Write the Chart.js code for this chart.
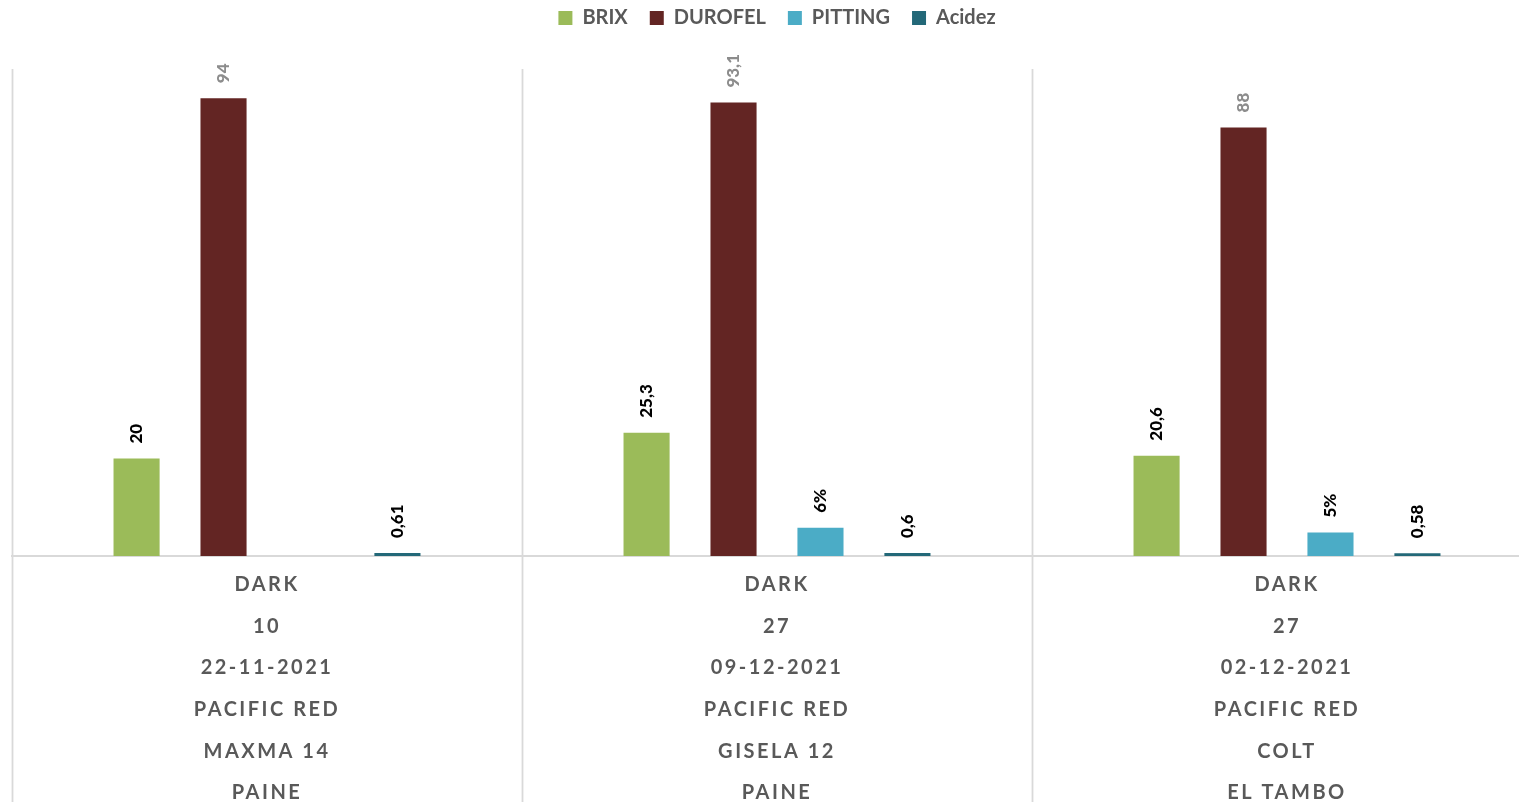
<!DOCTYPE html>
<html>
<head>
<meta charset="utf-8">
<script src="https://cdn.jsdelivr.net/npm/chart.js@4.4.1/dist/chart.umd.min.js"></script>
<style>
  html, body { margin: 0; padding: 0; background: #fff; overflow: hidden; }
  #wrap { width: 1542px; height: 802px; position: relative; }
</style>
</head>
<body>
<div id="wrap"><canvas id="grafico"></canvas></div>
<script>
// ejes de categoria (varias lineas por muestra)
const tipo = ['DARK', 'DARK', 'DARK'];
const calibre = ['10', '27', '27'];
const fecha = ['22-11-2021', '09-12-2021', '02-12-2021'];
const variedad = ['PACIFIC RED', 'PACIFIC RED', 'PACIFIC RED'];
const portainjerto = ['MAXMA 14', 'GISELA 12', 'COLT'];
const zona = ['PAINE', 'PAINE', 'EL TAMBO'];

// series
const brix = [20, 25.3, 20.6];
const durofel = [94, 93.1, 88];
const pitting = [null, 5.8, 4.8];
const acidez = [0.61, 0.6, 0.58];

const etiquetas = tipo.map((t, i) => [t, calibre[i], fecha[i], variedad[i], portainjerto[i], zona[i]]);

const coma = v => String(v).replace('.', ',');
const pct = v => Math.round(v) + '%';

// separadores verticales entre categorias
const separadores = {
  id: 'separadores',
  beforeDatasetsDraw(chart) {
    const xs = chart.scales.x;
    const ctx = chart.ctx;
    const paso = xs.width / etiquetas.length;
    ctx.save();
    ctx.strokeStyle = '#d9d9d9';
    ctx.lineWidth = 1.8;
    for (let i = 0; i <= etiquetas.length; i++) {
      const x = Math.round(xs.left + i * paso) + 0.5;
      ctx.beginPath();
      ctx.moveTo(x, chart.chartArea.top);
      ctx.lineTo(x, chart.height);
      ctx.stroke();
    }
    ctx.restore();
  }
};

// etiquetas de valor giradas
const valores = {
  id: 'valores',
  afterDatasetsDraw(chart) {
    const ctx = chart.ctx;
    chart.data.datasets.forEach((ds, i) => {
      const meta = chart.getDatasetMeta(i);
      meta.data.forEach((bar, j) => {
        const v = ds.data[j];
        if (v == null) return;
        ctx.save();
        ctx.translate(bar.x, bar.y - 15);
        ctx.rotate(-Math.PI / 2);
        ctx.font = '900 17px Lato';
        ctx.fillStyle = ds.colorEtiqueta;
        ctx.textAlign = 'left';
        ctx.textBaseline = 'middle';
        ctx.fillText(ds.formato(v), 0, 0);
        ctx.restore();
      });
    });
  }
};

// leyenda mas alta y espaciado de letras en el eje x
const ajustes = {
  id: 'ajustes',
  afterInit(chart) {
    const lg = chart.legend;
    const fit = lg.fit;
    lg.fit = function () {
      fit.call(this);
      this.height = 69;
    };
    const dibujar = lg.draw;
    lg.draw = function () {
      const c = this.ctx;
      c.save();
      c.translate(0, -14);
      dibujar.call(this);
      c.restore();
    };
  },
  beforeDraw(chart) {
    const xs = chart.scales.x;
    if (!xs._espaciado) {
      const orig = xs.drawLabels;
      xs.drawLabels = function (area) {
        const c = this.ctx;
        c.save();
        c.letterSpacing = '2.5px';
        orig.call(this, area);
        c.restore();
      };
      xs._espaciado = true;
    }
  }
};

new Chart(document.getElementById('grafico'), {
  type: 'bar',
  data: {
    labels: etiquetas,
    datasets: [
      { label: 'BRIX', data: brix, backgroundColor: '#9bbb59', colorEtiqueta: '#000', formato: coma },
      { label: 'DUROFEL', data: durofel, backgroundColor: '#632523', colorEtiqueta: '#8c8c8c', formato: coma },
      { label: 'PITTING', data: pitting, backgroundColor: '#4bacc6', colorEtiqueta: '#000', formato: pct },
      { label: 'Acidez', data: acidez, backgroundColor: '#236878', colorEtiqueta: '#000', formato: coma }
    ]
  },
  options: {
    responsive: true,
    maintainAspectRatio: false,
    animation: false,
    categoryPercentage: 0.682,
    barPercentage: 0.53,
    layout: { padding: { left: 12, right: 0, top: 0, bottom: 0 } },
    plugins: {
      tooltip: { enabled: false },
      legend: {
        position: 'top',
        labels: {
          boxWidth: 14,
          boxHeight: 14,
          padding: 22,
          color: '#595959',
          font: { family: 'Lato', size: 20, weight: 'bold' }
        }
      }
    },
    scales: {
      x: {
        grid: { display: false },
        border: { display: true, color: '#d9d9d9', width: 2 },
        ticks: {
          color: '#595959',
          padding: 0,
          maxRotation: 0,
          autoSkip: false,
          font: { family: 'Lato', size: 20, weight: 'bold', lineHeight: 41.6 / 20 }
        },
        afterFit(scale) { scale.height = 246; }
      },
      y: {
        display: false,
        min: 0,
        max: 100
      }
    }
  },
  plugins: [separadores, valores, ajustes]
});
</script>
</body>
</html>
